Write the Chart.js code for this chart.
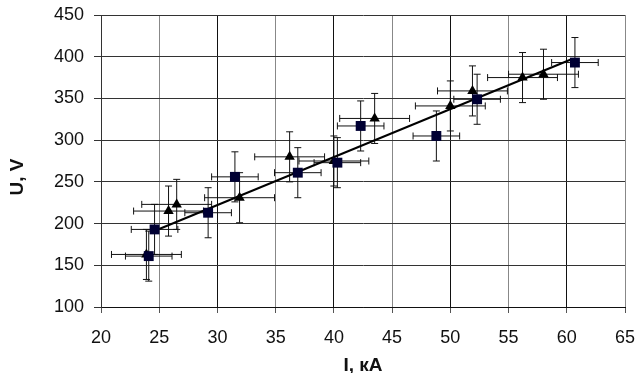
<!DOCTYPE html>
<html>
<head>
<meta charset="utf-8">
<script src="https://cdn.jsdelivr.net/npm/chart.js@4"></script>
<style>
  html, body { margin: 0; padding: 0; background: #fff; }
  #wrap { width: 638px; height: 373px; }
</style>
</head>
<body>
<div id="wrap"><canvas id="chart" width="638" height="373"></canvas></div>
<script>
// squares
const sqX = [24.1, 24.6, 29.2, 31.5, 36.9, 40.3, 42.3, 48.8, 52.3, 60.7];
const sqY = [161, 193, 213, 256, 261, 273, 317, 305, 349, 393];
// triangles
const triX = [23.9, 25.8, 26.5, 31.9, 36.2, 40.0, 43.5, 50.0, 51.9, 56.2, 58.0];
const triY = [163, 215, 223, 231, 280, 275, 326, 341, 359, 375, 379];
// error sizes
const sqErrX = 2, sqErrY = 30;
const triErrX = 3, triErrY = 30;
// fit line end points
const fitX = [25.0, 60.4];
const fitY = [193.5, 397];
const yTitle = 'U, V';
const xTitle = 'I, кА';

const toPts = (xs, ys) => xs.map((x, i) => ({ x: x, y: ys[i] }));

const errorBars = {
  id: 'errorBars',
  beforeDatasetsDraw(chart) {
    const ctx = chart.ctx;
    const xs = chart.scales.x, ys = chart.scales.y;
    const cap = 3.5;
    ctx.save();
    ctx.strokeStyle = '#111';
    ctx.lineWidth = 1;
    chart.data.datasets.forEach(ds => {
      if (ds.errX == null) return;
      ds.data.forEach(p => {
        const px = xs.getPixelForValue(p.x), py = ys.getPixelForValue(p.y);
        const x1 = xs.getPixelForValue(p.x - ds.errX), x2 = xs.getPixelForValue(p.x + ds.errX);
        const y1 = ys.getPixelForValue(p.y + ds.errY), y2 = ys.getPixelForValue(p.y - ds.errY);
        ctx.beginPath();
        ctx.moveTo(x1, py); ctx.lineTo(x2, py);
        ctx.moveTo(x1, py - cap); ctx.lineTo(x1, py + cap);
        ctx.moveTo(x2, py - cap); ctx.lineTo(x2, py + cap);
        ctx.moveTo(px, y1); ctx.lineTo(px, y2);
        ctx.moveTo(px - cap, y1); ctx.lineTo(px + cap, y1);
        ctx.moveTo(px - cap, y2); ctx.lineTo(px + cap, y2);
        ctx.stroke();
      });
    });
    ctx.restore();
  }
};

// y title sits a bit below the middle of the plot, drawn by hand
const yTitlePlugin = {
  id: 'yTitle',
  afterDraw(chart) {
    const ctx = chart.ctx;
    ctx.save();
    ctx.translate(18, 177);
    ctx.rotate(-Math.PI / 2);
    ctx.font = 'bold 19px "Liberation Sans", Arial, sans-serif';
    ctx.fillStyle = '#111';
    ctx.textAlign = 'center';
    ctx.textBaseline = 'middle';
    ctx.fillText(yTitle, 0, 0);
    ctx.restore();
  }
};

const noOverflow = s => {
  s.paddingLeft = 0; s.paddingRight = 0; s.paddingTop = 0; s.paddingBottom = 0;
};

const tickFont = { family: 'Liberation Sans, Arial, sans-serif', size: 18 };
const titleFont = { family: 'Liberation Sans, Arial, sans-serif', size: 19, weight: 'bold', lineHeight: 1 };

new Chart(document.getElementById('chart'), {
  type: 'scatter',
  data: {
    datasets: [
      {
        label: 'fit',
        type: 'line',
        data: toPts(fitX, fitY),
        borderColor: '#000',
        borderWidth: 2,
        pointRadius: 0,
        fill: false,
        order: 3
      },
      {
        label: 'squares',
        data: toPts(sqX, sqY),
        errX: sqErrX, errY: sqErrY,
        pointStyle: 'rect',
        pointRadius: 7,
        backgroundColor: '#000033',
        borderColor: '#000033',
        borderWidth: 0,
        order: 1
      },
      {
        label: 'triangles',
        data: toPts(triX, triY),
        errX: triErrX, errY: triErrY,
        pointStyle: 'triangle',
        pointRadius: 6,
        backgroundColor: '#000',
        borderColor: '#000',
        borderWidth: 0,
        order: 2
      }
    ]
  },
  options: {
    responsive: false,
    animation: false,
    layout: { padding: { top: 15, right: 13, left: 0, bottom: 0 } },
    plugins: { legend: { display: false }, tooltip: { enabled: false } },
    scales: {
      x: {
        type: 'linear',
        min: 20, max: 65,
        ticks: { stepSize: 5, color: '#111', font: tickFont, padding: 14, maxRotation: 0 },
        grid: {
          color: c => (c.index % 2 === 0 ? '#111' : '#888'),
          tickLength: 6,
          tickColor: '#555'
        },
        border: { color: '#111' },
        title: { display: true, text: xTitle, color: '#111', font: titleFont, padding: { top: 0, bottom: -2 } },
        afterFit: s => { s.height = 66; noOverflow(s); }
      },
      y: {
        min: 100, max: 450,
        ticks: { stepSize: 50, color: '#111', font: tickFont, padding: 10 },
        grid: { color: '#333', tickLength: 7, tickColor: '#333' },
        border: { color: '#333' },
        afterFit: s => { s.width = 101; noOverflow(s); }
      }
    }
  },
  plugins: [errorBars, yTitlePlugin]
});
</script>
</body>
</html>
